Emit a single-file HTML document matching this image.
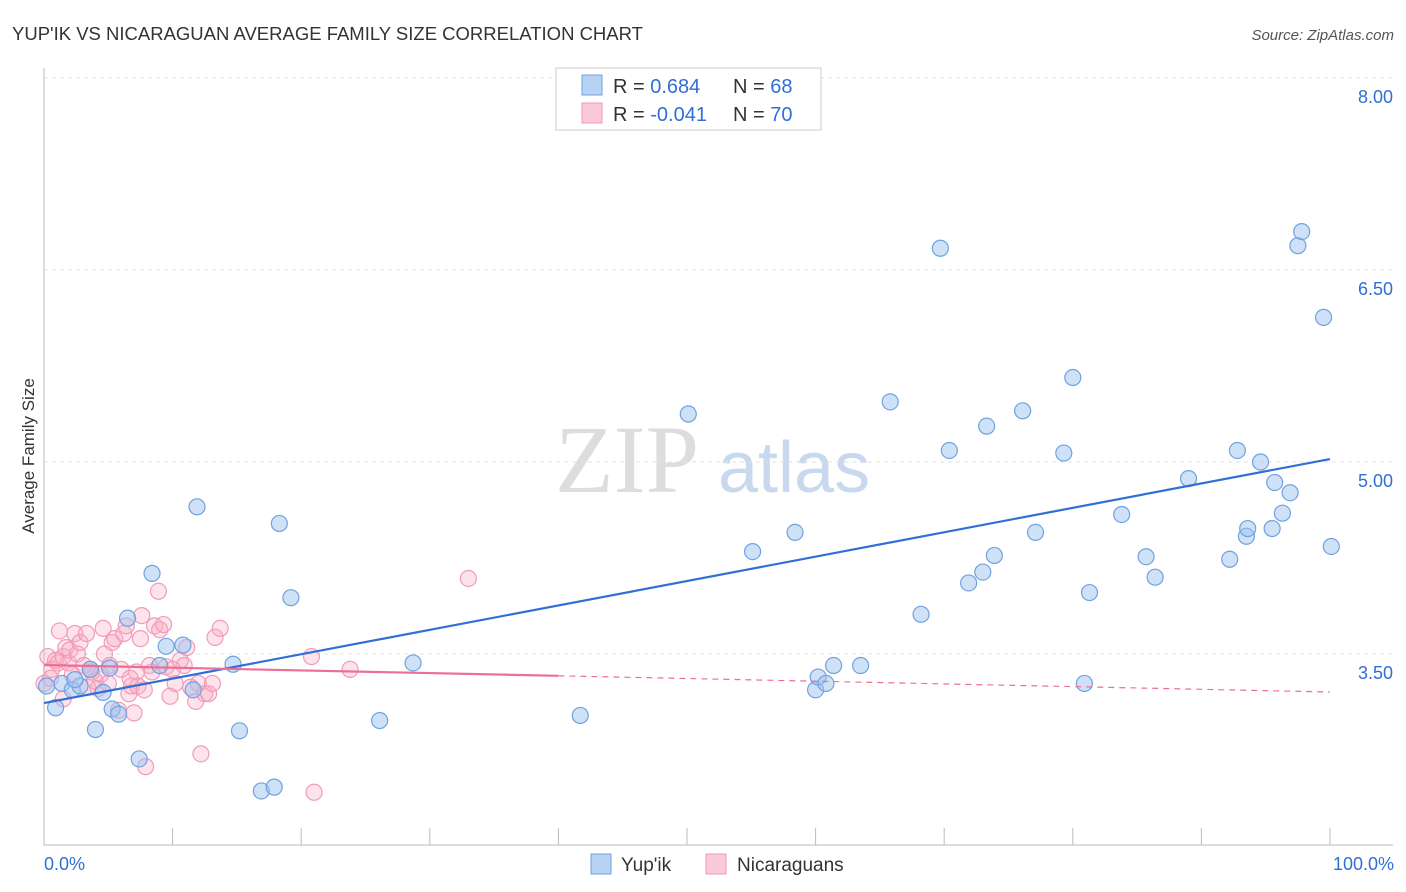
<!DOCTYPE html>
<html><head><meta charset="utf-8">
<style>
body{margin:0;background:#fff;font-family:"Liberation Sans",sans-serif;}
svg{display:block}
</style></head>
<body>
<svg id="chart" width="1406" height="892">
<text x="12" y="40" font-size="18.5" fill="#333">YUP'IK VS NICARAGUAN AVERAGE FAMILY SIZE CORRELATION CHART</text>
<text x="1394" y="40" font-size="15" fill="#555" font-style="italic" text-anchor="end">Source: ZipAtlas.com</text>
<text x="34" y="456" font-size="17" fill="#333" text-anchor="middle" transform="rotate(-90 34 456)">Average Family Size</text>
<text x="555" y="492" font-size="96" fill="#ddd" font-family="Liberation Serif,serif">ZIP</text>
<text x="718" y="492" font-size="72" fill="#c8d8ef">atlas</text>
<g id="grid"></g>
<g id="pts"></g>
<g id="lines"></g>
<g>
<rect x="556" y="68" width="265" height="62" fill="#fff" stroke="#ccc"/>
<rect x="582" y="75" width="20" height="20" fill="#b8d2f4" stroke="#6fa2e0"/>
<rect x="582" y="103" width="20" height="20" fill="#fbcad8" stroke="#f09ab5"/>
<text x="613" y="93" font-size="20" fill="#333">R = <tspan fill="#2f6fd6"> 0.684</tspan></text>
<text x="733" y="93" font-size="20" fill="#333">N = <tspan fill="#2f6fd6">68</tspan></text>
<text x="613" y="121" font-size="20" fill="#333">R = <tspan fill="#2f6fd6">-0.041</tspan></text>
<text x="733" y="121" font-size="20" fill="#333">N = <tspan fill="#2f6fd6">70</tspan></text>
</g>
<g>
<rect x="591" y="854" width="20" height="20" fill="#b8d2f4" stroke="#6fa2e0"/>
<text x="621" y="871" font-size="19" fill="#333">Yup'ik</text>
<rect x="706" y="854" width="20" height="20" fill="#fbcad8" stroke="#f09ab5"/>
<text x="737" y="871" font-size="19" fill="#333">Nicaraguans</text>
</g>
<text x="44" y="870" font-size="18" fill="#2f6fd6">0.0%</text>
<text x="1394" y="870" font-size="18" fill="#2f6fd6" text-anchor="end">100.0%</text>
</svg>
<script>
const yTicks=[8.0,6.5,5.0,3.5];
const yTickLabels=["8.00","6.50","5.00","3.50"];
const xTicks=[0,10,20,30,40,50,60,70,80,90,100];
const blueX=[0.2,0.9,1.4,2.2,2.8,4,4.6,5.1,5.3,5.8,6.5,7.4,8.4,9,9.5,10.8,11.6,11.9,14.7,15.2,16.9,17.9,18.3,19.2,26.1,28.7,41.7,50.1,55.1,58.4,60,60.2,60.8,61.4,63.5,65.8,68.2,69.7,70.4,71.9,73,73.3,73.9,76.1,77.1,79.3,80,80.9,81.3,83.8,85.7,86.4,89,92.2,92.8,93.5,93.6,94.6,95.5,95.7,96.3,96.9,97.5,97.8,99.5,100.1,3.6,2.4];
const blueY=[3.25,3.08,3.27,3.22,3.25,2.91,3.20,3.39,3.07,3.03,3.78,2.68,4.13,3.41,3.56,3.57,3.22,4.65,3.42,2.90,2.43,2.46,4.52,3.94,2.98,3.43,3.02,5.375,4.30,4.45,3.22,3.32,3.27,3.41,3.41,5.47,3.81,6.67,5.09,4.055,4.14,5.28,4.27,5.40,4.45,5.07,5.66,3.27,3.98,4.59,4.26,4.10,4.87,4.24,5.09,4.42,4.48,5.0,4.48,4.84,4.60,4.76,6.69,6.80,6.13,4.34,3.38,3.30];
const pinkX=[0.3,0.6,0.9,1.1,1.2,1.5,1.7,1.9,2,2.2,2.4,2.6,2.8,3.1,3.3,3.4,3.6,3.7,3.97,4.2,4.4,4.6,4.7,5,5.1,5.3,5.5,5.8,6,6.2,6.4,6.6,6.8,7,7.2,7.3,7.5,7.6,7.8,7.9,8.2,8.4,8.6,8.9,9,9.3,9.5,9.8,10.2,10.6,10.9,11.1,11.4,11.8,12,12.2,12.5,12.8,13.1,13.3,13.7,20.8,21,23.8,33,0,0.5,1.5,6.7,10];
const pinkY=[3.48,3.38,3.45,3.43,3.68,3.48,3.55,3.43,3.53,3.34,3.66,3.5,3.59,3.41,3.66,3.24,3.38,3.36,3.29,3.23,3.34,3.7,3.5,3.27,3.41,3.59,3.62,3.06,3.38,3.66,3.72,3.19,3.25,3.04,3.36,3.25,3.62,3.80,3.22,2.62,3.41,3.36,3.72,3.99,3.69,3.73,3.4,3.17,3.27,3.45,3.41,3.55,3.24,3.13,3.27,2.72,3.19,3.19,3.27,3.63,3.7,3.48,2.42,3.38,4.09,3.27,3.31,3.15,3.31,3.38];
const blueTrend=[3.117,5.023];
const pinkTrend=[3.414,3.203];
const NS="http://www.w3.org/2000/svg";
const X=v=>44+v*12.86, Y=v=>654-(v-3.5)*128;
function mk(tag,attrs,parent){const e=document.createElementNS(NS,tag);for(const k in attrs)e.setAttribute(k,attrs[k]);parent.appendChild(e);return e;}
const grid=document.getElementById('grid');
yTicks.forEach((t,i)=>{
 const l=mk('line',{x1:44,x2:1393,y1:Y(t),y2:Y(t),stroke:'#e2e2e2','stroke-dasharray':'4,4'},grid);
 
 
 const tx=mk('text',{x:1393,y:Y(t)+25,'font-size':18,fill:'#2f6fd6','text-anchor':'end'},grid);
 tx.textContent=yTickLabels[i];
 
 
});
const ax=mk('line',{x1:44,x2:1393,y1:845,y2:845,stroke:'#bbb'},grid);


const ay=mk('line',{x1:44,x2:44,y1:68,y2:845,stroke:'#bbb'},grid);


xTicks.forEach(t=>{
 const l=mk('line',{x1:X(t),x2:X(t),y1:828,y2:845,stroke:'#bbb'},grid);
 
 
});
const pts=document.getElementById('pts');
pinkX.forEach((x,i)=>{
 const c=mk('circle',{cx:X(x),cy:Y(pinkY[i]),r:8,fill:'rgba(248,175,198,0.35)',stroke:'#f29bb7','stroke-width':1.2},pts);
 
 
});
blueX.forEach((x,i)=>{
 const c=mk('circle',{cx:X(x),cy:Y(blueY[i]),r:8,fill:'rgba(160,196,240,0.5)',stroke:'#6fa2e0','stroke-width':1.2},pts);
 
 
});
const lines=document.getElementById('lines');
const bl=mk('line',{x1:X(0),y1:Y(blueTrend[0]),x2:X(100),y2:Y(blueTrend[1]),stroke:'#2f6fd6','stroke-width':2.2},lines);


const pm=pinkTrend[0]+(pinkTrend[1]-pinkTrend[0])*0.4;
const pl=mk('line',{x1:X(0),y1:Y(pinkTrend[0]),x2:X(40),y2:Y(pm),stroke:'#ec6f97','stroke-width':2.2},lines);


const pd=mk('line',{x1:X(40),y1:Y(pm),x2:X(100),y2:Y(pinkTrend[1]),stroke:'#ec6f97','stroke-width':1.2,'stroke-dasharray':'6,5'},lines);


</script>
</body></html>
